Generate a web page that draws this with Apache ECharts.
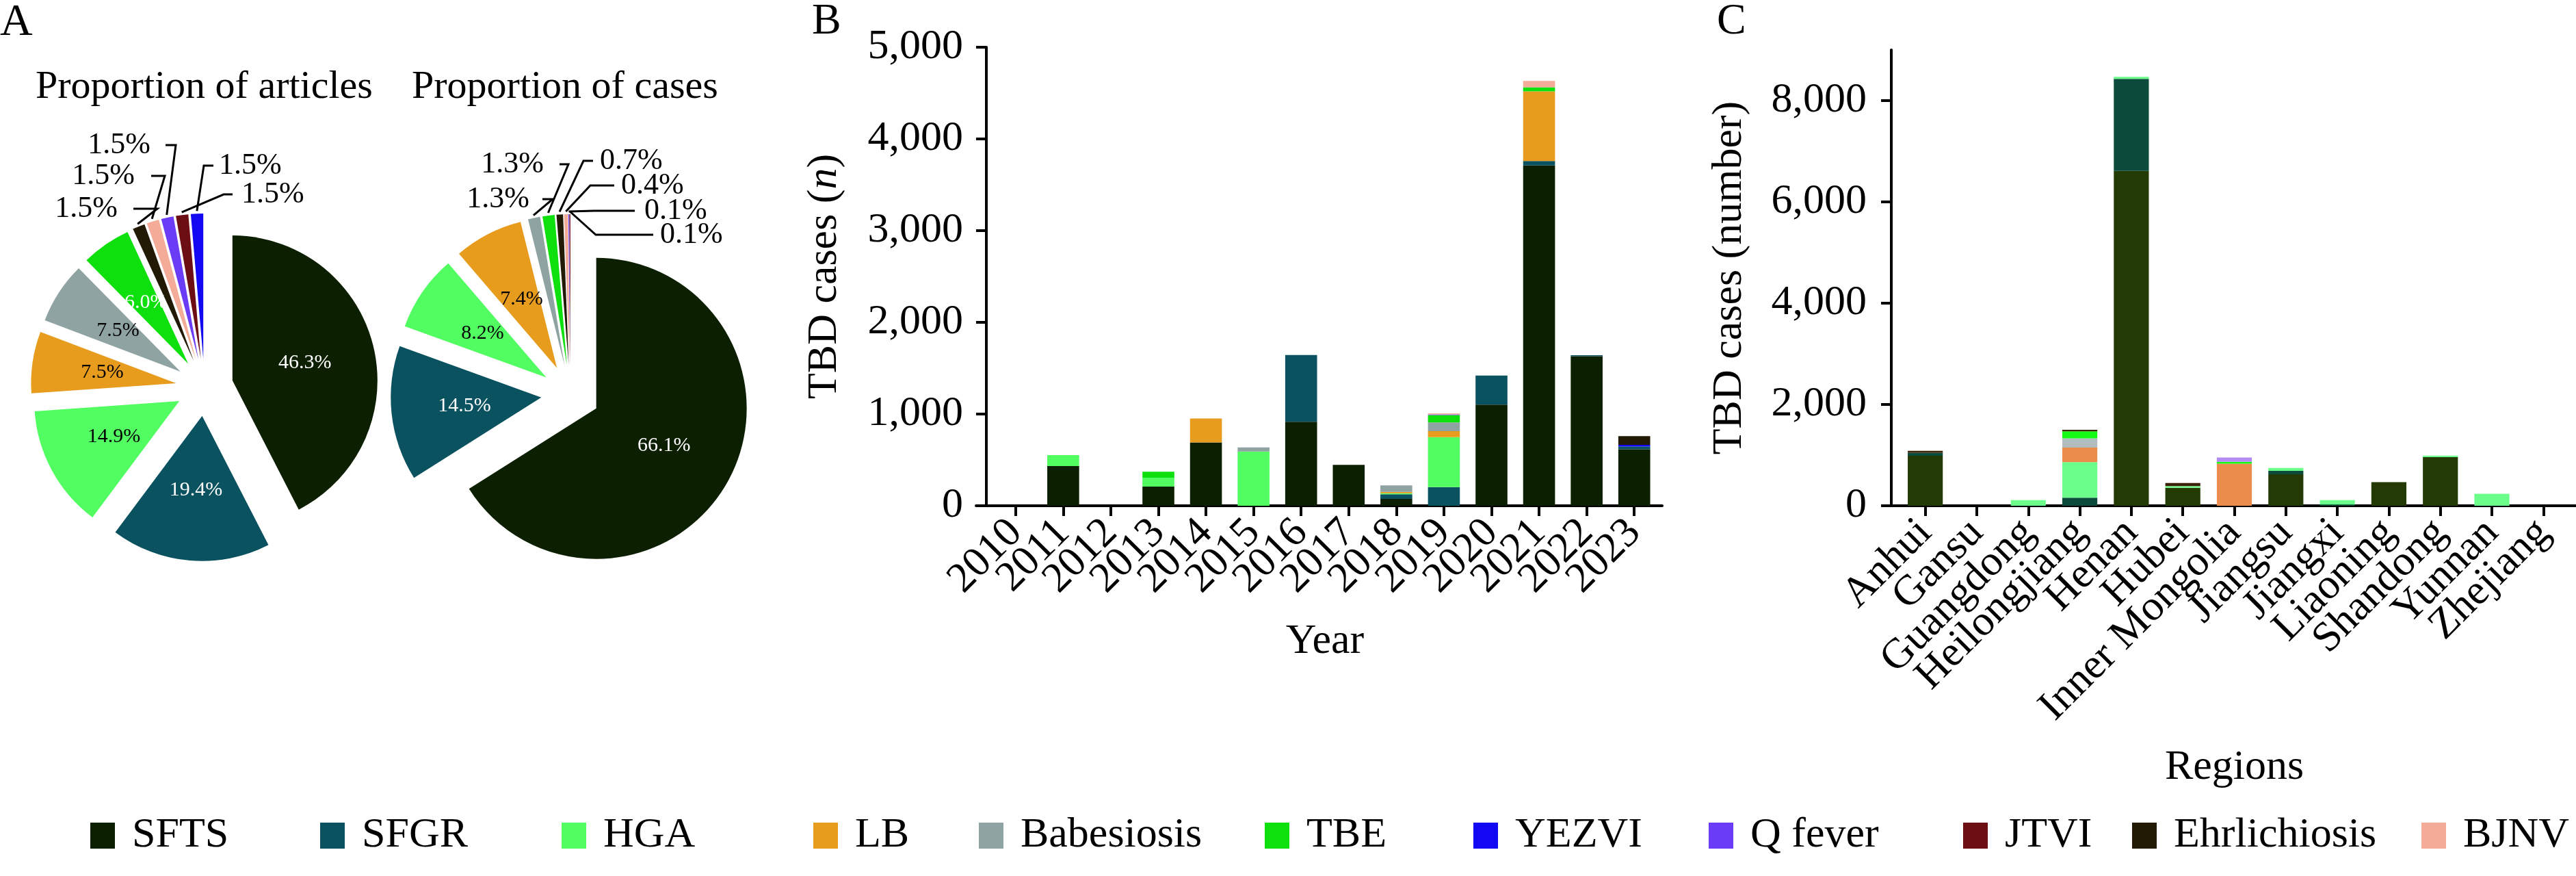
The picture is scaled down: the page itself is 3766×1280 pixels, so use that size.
<!DOCTYPE html>
<html><head><meta charset="utf-8">
<script src="https://cdn.jsdelivr.net/npm/echarts@6/dist/echarts.min.js"></script>
<style>html,body{margin:0;padding:0;background:#fff}#c{width:3766px;height:1280px}</style>
</head><body><div id="c"></div>
<script>
// ---------- DATA ----------
const diseases = ['SFTS','SFGR','HGA','LB','Babesiosis','TBE','YEZVI','Q fever','JTVI','Ehrlichiosis','BJNV'];

// Panel A: pie charts (percent labels as printed)
const articleNames  = ['SFTS','SFGR','HGA','LB','Babesiosis','TBE','Ehrlichiosis','BJNV','Q fever','JTVI','YEZVI'];
const articleValues = [46.3, 19.4, 14.9, 7.5, 7.5, 6.0, 1.5, 1.5, 1.5, 1.5, 1.5];
const caseNames  = ['SFTS','SFGR','HGA','LB','Babesiosis','TBE','Ehrlichiosis','BJNV','Q fever','JTVI'];
const caseValues = [66.1, 14.5, 8.2, 7.4, 1.3, 1.3, 0.7, 0.4, 0.1, 0.1];

// Panel B: cases by year
const years = ['2010','2011','2012','2013','2014','2015','2016','2017','2018','2019','2020','2021','2022','2023'];
const yrSFTS  = [0, 433, 0, 209, 690,   0, 916, 446, 75,   0, 1103, 3711, 1630, 615];
const yrSFGR  = [0,   0, 0,   0,   0,   0, 728,   0, 50, 203,  316,   49,   12,  30];
const yrHGA   = [0, 119, 0,  97,   0, 592,   0,   0, 12, 545,    0,    0,    0,   0];
const yrLB    = [0,   0, 0,   0, 262,   0,   0,   0, 15,  65,    0,  759,    0,   0];
const yrBabe  = [0,   0, 0,   0,   0,  45,   0,   0, 70,  95,    0,    0,    0,   0];
const yrTBE   = [0,   0, 0,  65,   0,   0,   0,   0,  0,  80,    0,   44,    0,   0];
const yrYEZVI = [0,   0, 0,   0,   0,   0,   0,   0,  0,   0,    0,    0,    0,  20];
const yrQfev  = [0,   0, 0,   0,   0,   0,   0,   0,  0,   8,    0,    0,    0,   0];
const yrJTVI  = [0,   0, 0,   0,   0,   0,   0,   0,  0,   0,    0,    0,    0,   0];
const yrEhrl  = [0,   0, 0,   0,   0,   0,   0,   0,  0,   0,    0,    0,    0,  95];
const yrBJNV  = [0,   0, 0,   0,   0,   0,   0,   0,  0,  12,    0,   69,    0,   0];
const yTicksB = [0, 1000, 2000, 3000, 4000, 5000];

// Panel C: cases by region
const regions = ['Anhui','Gansu','Guangdong','Heilongjiang','Henan','Hubei','Inner Mongolia','Jiangsu','Jiangxi','Liaoning','Shandong','Yunnan','Zhejiang'];
const rgSFTS  = [986, 0,   0,   0, 6610, 355,   0, 620,  0, 465, 960,   0, 0];
const rgSFGR  = [ 60, 0,   0, 160, 1820,   0,   0,  70, 25,   0,   0,   0, 0];
const rgHGA   = [  0, 0, 110, 700,   40,  35,   0,  55, 85,   0,  30, 235, 0];
const rgLB    = [  0, 0,   0, 290,    0,   0, 830,   0,  0,   0,   0,   0, 0];
const rgBabe  = [  0, 0,   0, 180,    0,   0,   0,   0,  0,   0,   0,   0, 0];
const rgTBE   = [  0, 0,   0, 140,    0,   0,  38,   0,  0,   0,   0,   0, 0];
const rgYEZVI = [  0, 0,   0,   0,    0,   0,   0,   0,  0,   0,   0,   0, 0];
const rgQfev  = [  0, 0,   0,   0,    0,   0,  85,   0,  0,   0,   0,   0, 0];
const rgJTVI  = [  0, 0,   0,   0,    0,   0,   0,   0,  0,   0,   0,   0, 0];
const rgEhrl  = [ 40, 0,   0,  30,    0,  60,   0,   0,  0,   0,   0,   0, 0];
const rgBJNV  = [  0, 0,   0,   0,    0,   0,   0,   0,  0,   0,   0,   0, 0];
const yTicksC = [0, 2000, 4000, 6000, 8000];

// ---------- STYLE / LAYOUT ----------
const FONT = 'Liberation Serif';
const colB = {'SFTS':'#0c1f00','SFGR':'#0b5260','HGA':'#52fd62','LB':'#e89c1d','Babesiosis':'#8fa3a3','TBE':'#0ee00e',
  'YEZVI':'#1208f2','Q fever':'#6a3cf7','JTVI':'#6c0e14','Ehrlichiosis':'#231a06','BJNV':'#f4ab97'};
const colC = {'SFTS':'#243a05','SFGR':'#0c4a3b','HGA':'#6cfe8a','LB':'#e98c4c','Babesiosis':'#b0bcbd','TBE':'#15fa15',
  'YEZVI':'#2020ff','Q fever':'#b48bf2','JTVI':'#6c0e14','Ehrlichiosis':'#3a2206','BJNV':'#f4c0b0'};
const yearData = {'SFTS':yrSFTS,'SFGR':yrSFGR,'HGA':yrHGA,'LB':yrLB,'Babesiosis':yrBabe,'TBE':yrTBE,'YEZVI':yrYEZVI,'Q fever':yrQfev,'JTVI':yrJTVI,'Ehrlichiosis':yrEhrl,'BJNV':yrBJNV};
const regionData = {'SFTS':rgSFTS,'SFGR':rgSFGR,'HGA':rgHGA,'LB':rgLB,'Babesiosis':rgBabe,'TBE':rgTBE,'YEZVI':rgYEZVI,'Q fever':rgQfev,'JTVI':rgJTVI,'Ehrlichiosis':rgEhrl,'BJNV':rgBJNV};
const whiteInside = {'SFTS':1,'SFGR':1,'TBE':1};
const pieGeo = [{cx:299, cy:566, r:212, d:42}, {cx:834, cy:576, r:220, d:43}];
// outside label placement (offsets from pie centre): label edge lx,ly; line end ex; elbow bx
const articleLabelPos = {
  'Ehrlichiosis':{lx:-127, ly:-261, ex:-104, bx:-69},
  'BJNV':        {lx:-102, ly:-309, ex:-78,  bx:-58},
  'Q fever':     {lx:-79,  ly:-354, ex:-57,  bx:-42},
  'JTVI':        {lx:54,   ly:-282, ex:41,   bx:28},
  'YEZVI':       {lx:21,   ly:-324, ex:13,   bx:-1}
};
const caseLabelPos = {
  'Babesiosis':  {lx:-60, ly:-285, ex:-41, bx:-26},
  'TBE':         {lx:-39, ly:-336, ex:-16, bx:-3},
  'Ehrlichiosis':{lx:43,  ly:-341, ex:33,  bx:19},
  'BJNV':        {lx:74,  ly:-305, ex:64,  bx:29},
  'Q fever':     {lx:108, ly:-268, ex:94,  bx:35},
  'JTVI':        {lx:131, ly:-233, ex:121, bx:37}
};
const legendX = [132, 468, 821, 1189, 1431, 1849, 2154, 2498, 2870, 3117, 3540];

// one pie series per slice: every slice drawn exploded along its own mid-angle
function makePieSlices(k, names, values, pos) {
  const g = pieGeo[k];
  const total = values.reduce((a, b) => a + b, 0);
  let cum = 0;
  return names.map((n, i) => {
    const mid = (cum + values[i] / 2) / total * 2 * Math.PI;
    cum += values[i];
    const cx = g.cx + g.d * Math.sin(mid), cy = g.cy - g.d * Math.cos(mid);
    const q = pos[n];
    return {
      type: 'pie', name: 'pie' + k + '_' + i, silent: true, legendHoverLink: false,
      center: [cx, cy], radius: [0, g.r], startAngle: 90, clockwise: true,
      avoidLabelOverlap: false, emphasis: {disabled: true},
      itemStyle: {borderWidth: 0},
      labelLine: {show: false, lineStyle: {color: '#000', width: 3}},
      data: names.map((m, j) => ({
        name: m, value: values[j],
        itemStyle: {color: j === i ? colB[m] : 'rgba(0,0,0,0)', borderWidth: 0},
        label: j !== i ? {show: false} :
          (q ? {show: true, position: 'outside', fontSize: 44, color: '#000', fontFamily: FONT,
                formatter: p => p.value.toFixed(1) + '%'}
             : {show: true, position: 'inside', fontSize: 30, fontFamily: FONT,
                color: whiteInside[m] ? '#fff' : '#000', formatter: p => p.value.toFixed(1) + '%'}),
        labelLine: {show: j === i && !!q, lineStyle: {color: '#000', width: 3}}
      })),
      labelLayout: function (p) {
        if (!q || p.dataIndex !== i) return {};
        const rr = g.r + 4;
        const tip = [cx + rr * Math.sin(mid), cy - rr * Math.cos(mid)];
        const ly = g.cy + q.ly;
        return {
          x: g.cx + q.lx, y: ly, align: q.lx < 0 ? 'right' : 'left', verticalAlign: 'middle',
          labelLinePoints: [tip, [g.cx + q.bx, ly], [g.cx + q.ex, ly]]
        };
      }
    };
  });
}

const series = [];
diseases.forEach(n => series.push({
  name: n, type: 'bar', stack: 'B', xAxisIndex: 0, yAxisIndex: 0, barWidth: '67%',
  itemStyle: {color: colB[n]}, data: yearData[n]
}));
diseases.forEach(n => series.push({
  name: n, type: 'bar', stack: 'C', xAxisIndex: 1, yAxisIndex: 1, barWidth: '68%',
  itemStyle: {color: colC[n]}, data: regionData[n]
}));
makePieSlices(0, articleNames, articleValues, articleLabelPos).forEach(s => series.push(s));
makePieSlices(1, caseNames, caseValues, caseLabelPos).forEach(s => series.push(s));

const axisLine = {show: true, lineStyle: {color: '#000', width: 4}};
const axisTick = {show: true, length: 15, lineStyle: {color: '#000', width: 4}};
const fmt = v => Number(v).toLocaleString('en-US');
const TS = {fontFamily: FONT, fontWeight: 'normal', fontStyle: 'normal', color: '#000'};

const legends = diseases.map((n, i) => ({
  data: [{name: n, icon: 'rect'}], left: legendX[i], top: 1190, padding: 0,
  itemWidth: 36, itemHeight: 38, selectedMode: false,
  textStyle: Object.assign({fontSize: 62, padding: [0, 0, 0, 20]}, TS)
}));

const txt = (t, x, y, size) => ({type: 'text', x: x, y: y,
  style: {text: t, font: size + 'px "' + FONT + '"', fill: '#000', verticalAlign: 'top'}});

// plain baseline axes that run slightly past the y axes (as in the original figure)
const baseAxis = (g) => ({type: 'value', gridIndex: g, axisLine: Object.assign({onZero: false}, axisLine),
  axisTick: {show: false}, axisLabel: {show: false}, splitLine: {show: false}});

const option = {
  animation: false,
  backgroundColor: '#fff',
  textStyle: TS,
  legend: legends,
  graphic: [
    txt('A', 0, 1, 66), txt('B', 1187, 0, 64), txt('C', 2510, 0, 64),
    txt('Proportion of articles', 52, 99, 58), txt('Proportion of cases', 602, 99, 58)
  ],
  grid: [
    {left: 1450, top: 69, width: 974, height: 670},
    {left: 2777, top: 73, width: 979, height: 666},
    {left: 1427, top: 69, width: 1003, height: 670},
    {left: 2752, top: 73, width: 1014, height: 666}
  ],
  xAxis: [
    {type: 'category', gridIndex: 0, data: years, axisLine, axisTick: Object.assign({alignWithLabel: true}, axisTick),
     axisLabel: Object.assign({rotate: 45, interval: 0, margin: 30, fontSize: 62}, TS),
     name: 'Year', nameLocation: 'middle', nameGap: 168, nameTextStyle: Object.assign({fontSize: 62}, TS)},
    {type: 'category', gridIndex: 1, data: regions, axisLine, axisTick: Object.assign({alignWithLabel: true}, axisTick),
     axisLabel: Object.assign({rotate: 45, interval: 0, margin: 30, fontSize: 62}, TS),
     name: 'Regions', nameLocation: 'middle', nameGap: 352, nameTextStyle: Object.assign({fontSize: 62}, TS)},
    baseAxis(2), baseAxis(3)
  ],
  yAxis: [
    {type: 'value', gridIndex: 0, min: yTicksB[0], max: yTicksB[yTicksB.length - 1], interval: 1000, offset: 8,
     axisLine, axisTick, splitLine: {show: false},
     axisLabel: Object.assign({fontSize: 62, margin: 34, formatter: fmt}, TS),
     name: 'TBD cases ({i|n})', nameLocation: 'middle', nameRotate: 90, nameGap: 205,
     nameTextStyle: Object.assign({fontSize: 62,
       rich: {i: {fontStyle: 'italic', fontSize: 62, fontFamily: FONT, color: '#000'}}}, TS)},
    {type: 'value', gridIndex: 1, min: 0, max: 9000, offset: 12,
     axisLine, axisTick: Object.assign({customValues: yTicksC}, axisTick), splitLine: {show: false},
     axisLabel: Object.assign({fontSize: 62, margin: 36, formatter: fmt, customValues: yTicksC}, TS),
     name: 'TBD cases (number)', nameLocation: 'middle', nameRotate: 90, nameGap: 205,
     nameTextStyle: Object.assign({fontSize: 62}, TS)},
    {type: 'value', gridIndex: 2, show: false},
    {type: 'value', gridIndex: 3, show: false}
  ],
  series: series
};
const chart = echarts.init(document.getElementById('c'), null, {renderer: 'canvas'});
chart.setOption(option);
</script></body></html>
